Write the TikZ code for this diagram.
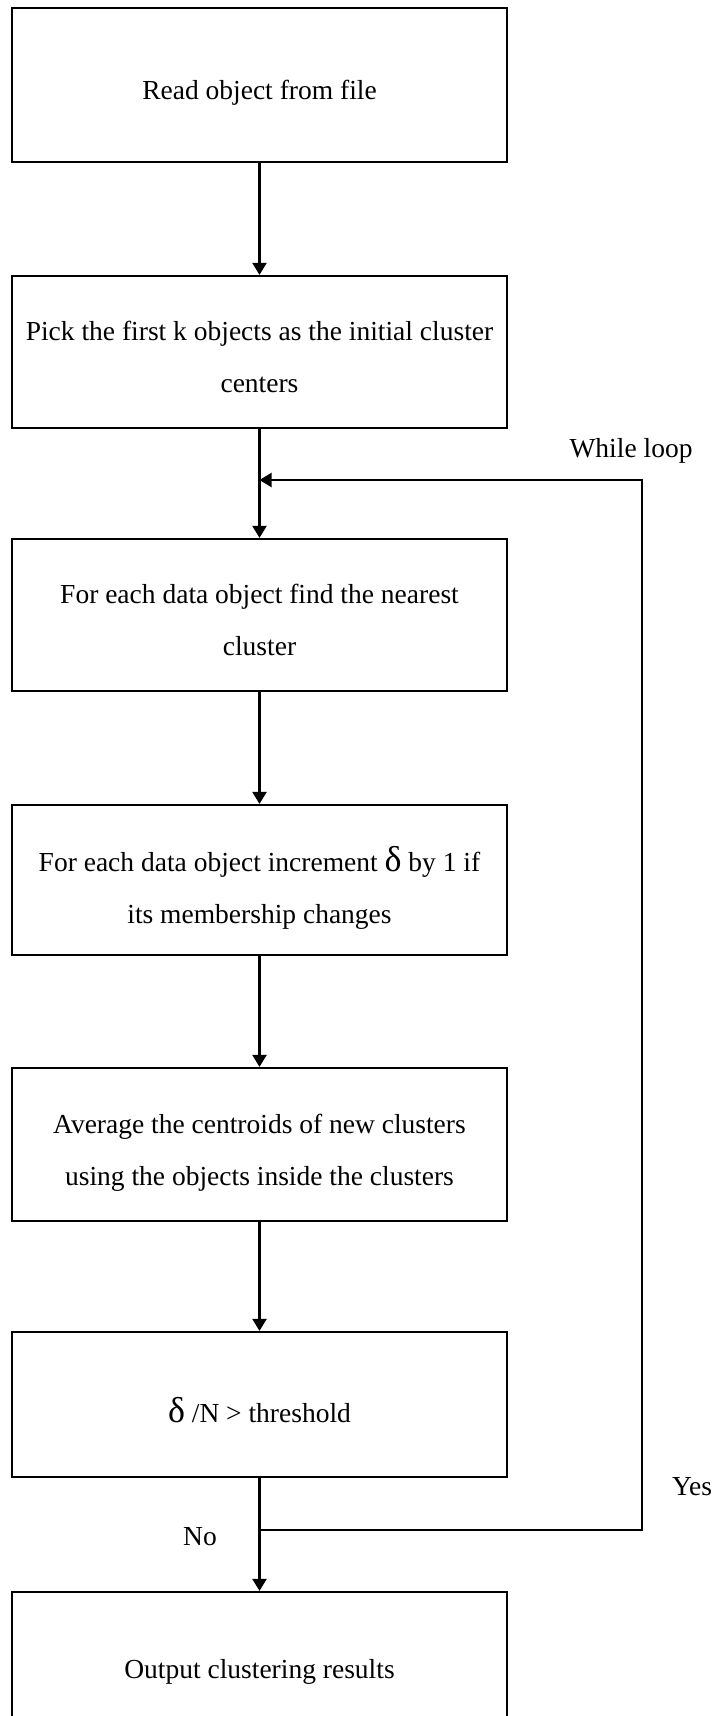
\documentclass[tikz,border=0pt]{standalone}
\usepackage{fontspec}
\setmainfont{Liberation Serif}
\usetikzlibrary{arrows.meta}
\begin{document}
\begin{tikzpicture}[x=1pt,y=-1pt,
  box/.style={draw=black, line width=2.2pt, minimum width=495pt, inner sep=0pt,
    align=center, font=\fontsize{27.5}{52}\selectfont, text depth=0pt},
  flow/.style={draw=black, line width=2.2pt, -{Triangle[length=12pt,width=14pt]}},
  lbl/.style={font=\fontsize{27.5}{33}\selectfont, inner sep=0pt}]
\useasboundingbox (0,0) rectangle (715,1716);
\newcommand{\bigdelta}{{\fontsize{36}{36}\selectfont δ}}
\newcommand{\topstrut}{\rule{0pt}{29pt}}
\newcommand{\dstrut}{\rule{0pt}{35pt}}

\node[box, minimum height=154pt] (b1) at (259.5,85) {\topstrut Read object from file};
\node[box, minimum height=152pt] (b2) at (259.5,352) {\topstrut Pick the first k objects as the initial cluster\\centers};
\node[box, minimum height=152pt] (b3) at (259.5,615) {\topstrut For each data object find the nearest\\cluster};
\node[box, minimum height=150pt] (b4) at (259.5,880) {\dstrut For each data object increment \bigdelta{} by 1 if\\its membership changes};
\node[box, minimum height=153pt] (b5) at (259.5,1144.5) {\topstrut Average the centroids of new clusters\\using the objects inside the clusters};
\node[box, minimum height=145pt] (b6) at (259.5,1404.5) {\dstrut\bigdelta{} /N > threshold};
\node[box, minimum height=144pt] (b7) at (259.5,1664) {\topstrut Output clustering results};

\coordinate (jin) at (259.5,480);
\coordinate (jout) at (259.5,1530);
\coordinate (rtop) at (642,480);
\coordinate (rbot) at (642,1530);

\draw[flow] (b1.south) -- (b2.north);
\draw[flow] (b2.south) -- (b3.north);
\draw[flow] (b3.south) -- (b4.north);
\draw[flow] (b4.south) -- (b5.north);
\draw[flow] (b5.south) -- (b6.north);
\draw[flow] (b6.south) -- (b7.north);
\draw[flow] (jout) -- (rbot) -- (rtop) -- (jin);

\node[lbl] (lwhile) at (631,451) {While loop};
\node[lbl] (lyes) at (692,1487) {Yes};
\node[lbl] (lno) at (200,1537) {No};
\end{tikzpicture}
\end{document}
